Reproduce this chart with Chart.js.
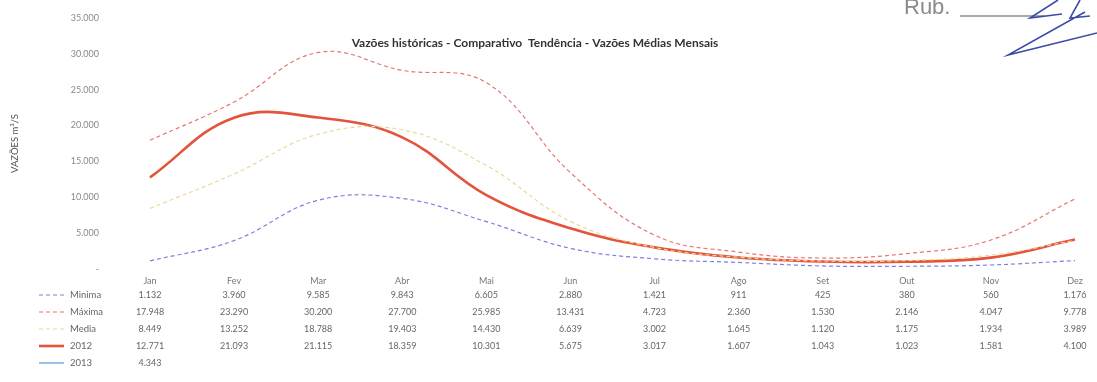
<!DOCTYPE html>
<html>
<head>
<meta charset="utf-8">
<script src="https://cdn.jsdelivr.net/npm/chart.js@4.4.1/dist/chart.umd.min.js"></script>
<style>
  html, body { margin: 0; padding: 0; background: #fff; }
  #wrap { width: 1097px; height: 382px; position: relative; }
</style>
</head>
<body>
<div id="wrap"><canvas id="myChart"></canvas></div>
<script>
// dados
var meses = ["Jan", "Fev", "Mar", "Abr", "Mai", "Jun", "Jul", "Ago", "Set", "Out", "Nov", "Dez"];
var minima = [1132, 3960, 9585, 9843, 6605, 2880, 1421, 911, 425, 380, 560, 1176];
var maxima = [17948, 23290, 30200, 27700, 25985, 13431, 4723, 2360, 1530, 2146, 4047, 9778];
var media = [8449, 13252, 18788, 19403, 14430, 6639, 3002, 1645, 1120, 1175, 1934, 3989];
var ano2012 = [12771, 21093, 21115, 18359, 10301, 5675, 3017, 1607, 1043, 1023, 1581, 4100];
var ano2013 = [4343];
var yTicks = [0, 5000, 10000, 15000, 20000, 25000, 30000, 35000];

var fonte = "Lato, 'Liberation Sans', sans-serif";

function fmt(v) {
  if (v === 0) return "-";
  var s = String(Math.round(v));
  return s.replace(/\B(?=(\d{3})+(?!\d))/g, ".");
}

var series = [
  { label: "Minima", data: minima, color: "#7f7fe0", dash: [4, 3], width: 1.2 },
  { label: "Máxima", data: maxima, color: "#ea7474", dash: [4, 3], width: 1.2 },
  { label: "Media", data: media, color: "#ecd898", dash: [4, 3], width: 1.2 },
  { label: "2012", data: ano2012, color: "#e4533c", dash: [], width: 2.6 },
  { label: "2013", data: ano2013, color: "#7fb2e2", dash: [], width: 1.6 }
];

// tabela de dados + titulo + rubrica
var tabela = {
  id: "tabela",
  afterDraw: function(chart) {
    var ctx = chart.ctx;
    var x = chart.scales.x;
    var base = chart.chartArea.bottom;
    ctx.save();
    ctx.textBaseline = "middle";

    // titulo
    ctx.font = "bold 12px " + fonte;
    ctx.fillStyle = "#333";
    ctx.textAlign = "center";
    ctx.fillText("Vazões históricas - Comparativo  Tendência - Vazões Médias Mensais", 535, 43);

    series.forEach(function(s, r) {
      var y = base + 26 + r * 17;
      // chave da legenda
      ctx.strokeStyle = s.color;
      ctx.lineWidth = s.width;
      ctx.setLineDash(s.dash);
      ctx.beginPath();
      ctx.moveTo(39, y);
      ctx.lineTo(64, y);
      ctx.stroke();
      ctx.setLineDash([]);
      ctx.font = "9.5px " + fonte;
      ctx.fillStyle = "#666";
      ctx.textAlign = "left";
      ctx.fillText(s.label, 70, y);
      // valores
      ctx.font = "9px " + fonte;
      ctx.textAlign = "center";
      s.data.forEach(function(v, i) {
        ctx.fillText(fmt(v), x.getPixelForValue(i), y);
      });
    });

    // rubrica
    ctx.font = "22px 'Liberation Sans', sans-serif";
    ctx.fillStyle = "#8a8a8a";
    ctx.textAlign = "left";
    ctx.fillText("Rub.", 904, 8);
    ctx.strokeStyle = "#8c8c8c";
    ctx.lineWidth = 1.5;
    ctx.beginPath();
    ctx.moveTo(960, 16);
    ctx.lineTo(1045, 16);
    ctx.stroke();
    ctx.strokeStyle = "#3d4ea8";
    ctx.lineWidth = 1.6;
    ctx.beginPath();
    ctx.moveTo(1058, 0);
    ctx.lineTo(1030, 18);
    ctx.lineTo(1062, 14);
    ctx.moveTo(1085, 12);
    ctx.lineTo(1008, 55);
    ctx.lineTo(1097, 33);
    ctx.moveTo(1080, 0);
    ctx.lineTo(1070, 18);
    ctx.lineTo(1090, 16);
    ctx.stroke();
    ctx.restore();
  }
};

new Chart("myChart", {
  type: "line",
  data: {
    labels: meses,
    datasets: series.map(function(s) {
      return {
        label: s.label,
        data: s.data,
        borderColor: s.color,
        backgroundColor: s.color,
        borderWidth: s.width,
        borderDash: s.dash,
        pointRadius: 0,
        tension: 0.4,
        fill: false
      };
    })
  },
  options: {
    responsive: true,
    maintainAspectRatio: false,
    animation: false,
    layout: { padding: { left: 37, right: 22, top: 18, bottom: 0 } },
    plugins: {
      legend: { display: false },
      title: { display: false },
      tooltip: { enabled: false }
    },
    scales: {
      x: {
        grid: { display: false, drawTicks: false },
        border: { display: false },
        ticks: {
          color: "#777",
          font: { family: fonte, size: 9 },
          padding: 7,
          maxRotation: 0,
          autoSkip: false
        },
        afterFit: function(scale) { scale.height = 113; }
      },
      y: {
        min: 0,
        max: 35000,
        grid: { display: false, drawTicks: false },
        border: { display: false },
        afterBuildTicks: function(scale) {
          scale.ticks = yTicks.map(function(v) { return { value: v }; });
        },
        ticks: {
          color: "#8a8a8a",
          font: { family: fonte, size: 9 },
          padding: 51,
          callback: function(v) { return fmt(v); }
        },
        title: {
          display: true,
          text: "VAZÕES m³/S",
          color: "#555",
          font: { family: fonte, size: 9.5 },
          padding: { top: -28, bottom: 0 }
        },
        afterFit: function(scale) {
          scale.width = 113;
          scale.paddingTop = 6;
          scale.paddingBottom = 6;
        }
      }
    }
  },
  plugins: [tabela]
});
</script>
</body>
</html>
